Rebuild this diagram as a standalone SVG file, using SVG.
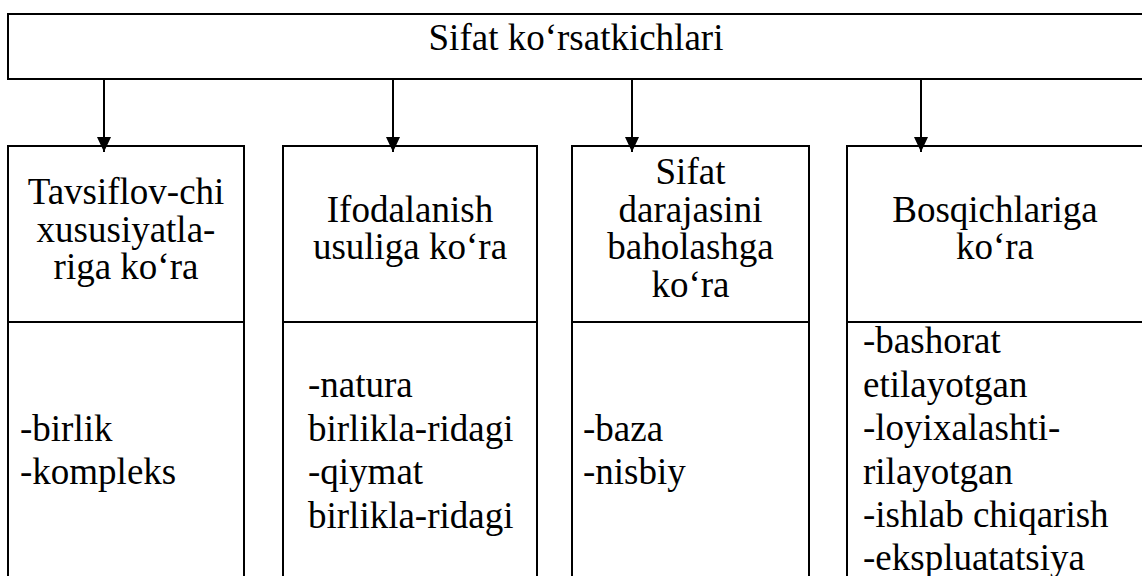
<svg xmlns="http://www.w3.org/2000/svg" width="1142" height="576" viewBox="0 0 1142 576">
<style>
.box{fill:#fff;stroke:#000;stroke-width:2}
.div{stroke:#000;stroke-width:2}
.t{font-family:'Liberation Serif','Times New Roman',serif;font-size:37px;fill:#000}
.c{text-anchor:middle}
.conn{stroke:#000;stroke-width:2;fill:none}
</style>
<defs>
<marker id="ah" markerUnits="userSpaceOnUse" markerWidth="16" markerHeight="14" refX="15" refY="7" orient="auto" viewBox="0 0 16 14">
<path d="M0,0 L15,7 L0,14 Z" fill="#000"/>
</marker>
</defs>
<rect width="1142" height="576" fill="#fff"/>
<g id="root">
<rect class="box" x="8" y="14" width="1150" height="65"/>
<text class="t c" x="576" y="50">Sifat ko‘rsatkichlari</text>
</g>
<g id="n1">
<rect class="box" x="8" y="146" width="236" height="440"/>
<line class="div" x1="8" y1="322" x2="244" y2="322"/>
<text class="t c" x="126" y="204">Tavsiflov-chi</text>
<text class="t c" x="126" y="241.5">xususiyatla-</text>
<text class="t c" x="126" y="279">riga ko‘ra</text>
<text class="t" x="20" y="440.5">-birlik</text>
<text class="t" x="20" y="484">-kompleks</text>
</g>
<g id="n2">
<rect class="box" x="283" y="146" width="254" height="440"/>
<line class="div" x1="283" y1="322" x2="537" y2="322"/>
<text class="t c" x="410" y="221.5">Ifodalanish</text>
<text class="t c" x="410" y="259">usuliga ko‘ra</text>
<text class="t" x="308" y="397">-natura</text>
<text class="t" x="308" y="440.5">birlikla-ridagi</text>
<text class="t" x="308" y="484">-qiymat</text>
<text class="t" x="308" y="527.5">birlikla-ridagi</text>
</g>
<g id="n3">
<rect class="box" x="572" y="146" width="237" height="440"/>
<line class="div" x1="572" y1="322" x2="809" y2="322"/>
<text class="t c" x="690.5" y="184">Sifat</text>
<text class="t c" x="690.5" y="221.5">darajasini</text>
<text class="t c" x="690.5" y="259">baholashga</text>
<text class="t c" x="690.5" y="296.5">ko‘ra</text>
<text class="t" x="583" y="440.5">-baza</text>
<text class="t" x="583" y="484">-nisbiy</text>
</g>
<g id="n4">
<rect class="box" x="847" y="146" width="310" height="440"/>
<line class="div" x1="847" y1="322" x2="1157" y2="322"/>
<text class="t c" x="995" y="221.5">Bosqichlariga</text>
<text class="t c" x="995" y="259">ko‘ra</text>
<text class="t" x="863" y="353">-bashorat</text>
<text class="t" x="863" y="396.5">etilayotgan</text>
<text class="t" x="863" y="440">-loyixalashti-</text>
<text class="t" x="863" y="483.5">rilayotgan</text>
<text class="t" x="863" y="527">-ishlab chiqarish</text>
<text class="t" x="863" y="570">-ekspluatatsiya</text>
</g>
<g id="connectors">
<line class="conn" x1="104" y1="79" x2="104" y2="152" marker-end="url(#ah)"/>
<line class="conn" x1="393" y1="79" x2="393" y2="152" marker-end="url(#ah)"/>
<line class="conn" x1="632" y1="79" x2="632" y2="152" marker-end="url(#ah)"/>
<line class="conn" x1="921" y1="79" x2="921" y2="152" marker-end="url(#ah)"/>
</g>
</svg>
